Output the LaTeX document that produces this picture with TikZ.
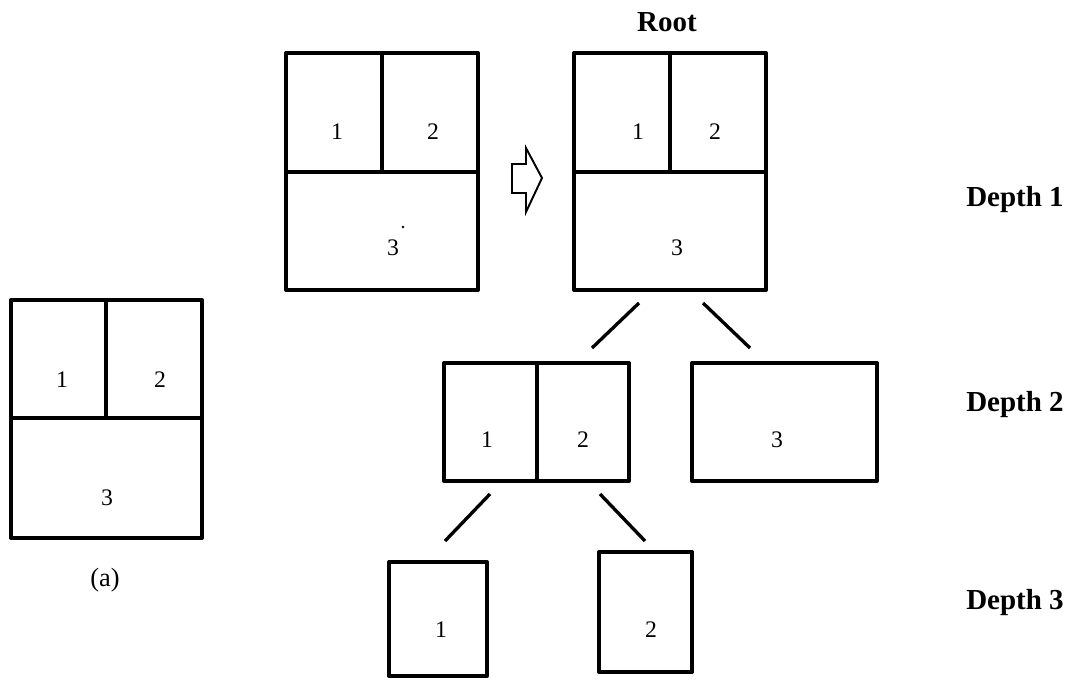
\documentclass[tikz,border=0pt]{standalone}
\usepackage{fontspec}
\setmainfont{Liberation Serif}
\begin{document}
\begin{tikzpicture}[x=0.02cm,y=-0.02cm,
  frame/.style={line width=2.3pt, line join=round, line cap=round},
  link/.style={line width=1.9pt},
  num/.style={font=\fontsize{13.5}{15}\selectfont, inner sep=0},
  lvl/.style={font=\fontsize{16.5}{19}\selectfont\bfseries, inner sep=0}]
\useasboundingbox (0,0) rectangle (1075,680);

% (a): plain partition
\draw[frame] (11,300) rectangle (202,538);
\draw[frame] (106,300) -- (106,418) (11,418) -- (202,418);
\node[num] (a1) at (62,380) {1};
\node[num] (a2) at (160,380) {2};
\node[num] (a3) at (107,498) {3};
\node[font=\fontsize{15}{17}\selectfont, inner sep=0] (acap) at (105,580) {(a)};

% partition before the transformation
\draw[frame] (286,53) rectangle (478,290);
\draw[frame] (382,53) -- (382,172) (286,172) -- (478,172);
\node[num] (p1) at (337,132) {1};
\node[num] (p2) at (433,132) {2};
\node[num] (p3) at (393,248) {3};
\fill (403,227) circle (1.4);

% hollow arrow
\draw[line width=1.1pt, line join=miter]
  (512,164) -- (526,164) -- (526,148) -- (542,178) -- (526,212) -- (526,193) -- (512,193) -- cycle;

% root of the tree
\node[lvl] (root) at (667,22) {Root};
\draw[frame] (574,53) rectangle (766,290);
\draw[frame] (670,53) -- (670,172) (574,172) -- (766,172);
\node[num] (r1) at (638,132) {1};
\node[num] (r2) at (715,132) {2};
\node[num] (r3) at (677,248) {3};

% depth 2
\draw[frame] (444,363) rectangle (629,481);
\draw[frame] (537,363) -- (537,481);
\node[num] (b1) at (487,440) {1};
\node[num] (b2) at (583,440) {2};
\draw[frame] (692,363) rectangle (877,481);
\node[num] (c3) at (777,440) {3};

% depth 3
\draw[frame] (389,562) rectangle (487,676);
\node[num] (d1) at (441,630) {1};
\draw[frame] (599,552) rectangle (692,672);
\node[num] (d2) at (651,630) {2};

% tree edges
\coordinate (e1s) at (639,303); \coordinate (e1t) at (592,348);
\coordinate (e2s) at (703,303); \coordinate (e2t) at (750,348);
\coordinate (e3s) at (490,494); \coordinate (e3t) at (445,541);
\coordinate (e4s) at (600,494); \coordinate (e4t) at (645,541);
\draw[link] (e1s) -- (e1t);
\draw[link] (e2s) -- (e2t);
\draw[link] (e3s) -- (e3t);
\draw[link] (e4s) -- (e4t);

% depth labels
\node[lvl] (dep1) at (1015,200) {Depth 1};
\node[lvl] (dep2) at (1015,405) {Depth 2};
\node[lvl] (dep3) at (1015,603) {Depth 3};
\end{tikzpicture}
\end{document}
